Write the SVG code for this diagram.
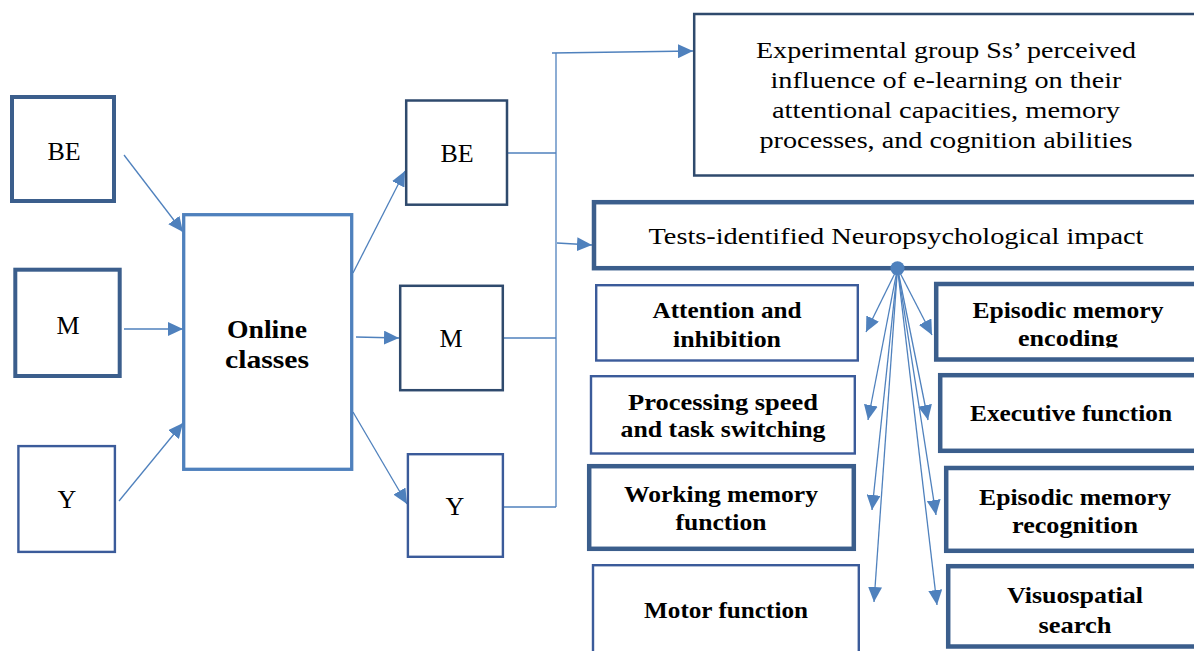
<svg xmlns="http://www.w3.org/2000/svg" width="1194" height="651" viewBox="0 0 1194 651">
<style>
.t{font-family:"Liberation Serif","Times New Roman",serif;fill:#000;text-anchor:middle}
.r{font-size:23px}
.b{font-size:23px;font-weight:bold}
.L{font-size:26px}
.box{fill:#fff}
.thick{stroke:#3b5e8c;stroke-width:4.5}
.thk4{stroke:#3b5e8c;stroke-width:4}
.dark{stroke:#2f4a6d;stroke-width:2.5}
.blue{stroke:#3b5b9a;stroke-width:2.4}
.online{stroke:#4f81bd;stroke-width:3.3}
.c{fill:none;stroke:#4f81bd;stroke-width:1.3}
.a{marker-end:url(#ah)}
</style>
<defs>
<marker id="ah" markerUnits="userSpaceOnUse" markerWidth="15" markerHeight="14" refX="15" refY="7" orient="auto">
<path d="M0,0 L15,7 L0,14 Z" fill="#4f81bd"/>
</marker>
<clipPath id="clipEnc"><rect x="930" y="276" width="270" height="71.5"/></clipPath>
</defs>

<g id="connectors">
<path class="c a" d="M124,155 L183,232"/>
<path class="c a" d="M124,329 L183,329"/>
<path class="c a" d="M119,501 L183,423"/>
<path class="c a" d="M353,273 L405,171"/>
<path class="c a" d="M356,337 L399,338"/>
<path class="c a" d="M353,412 L407,504"/>
<path class="c" d="M508,153 L556,153"/>
<path class="c" d="M504,338 L556,338"/>
<path class="c" d="M504,507 L556,507"/>
<path class="c" d="M556,53 L556,507"/>
<path class="c a" d="M552,53 L693,51"/>
<path class="c a" d="M557,243 L592,245"/>
<path class="c a" d="M897.5,268 L866,332"/>
<path class="c a" d="M897.5,268 L932,335"/>
<path class="c a" d="M897.5,268 L868,420"/>
<path class="c a" d="M897.5,268 L928,420"/>
<path class="c a" d="M897.5,268 L872,510"/>
<path class="c a" d="M897.5,268 L936,515"/>
<path class="c a" d="M897.5,268 L874,602"/>
<path class="c a" d="M897.5,268 L937,605"/>
</g>

<g id="be-left"><rect class="box thk4" x="12" y="97" width="102" height="104"/><text class="t L" x="64" y="160">BE</text></g>
<g id="m-left"><rect class="box thk4" x="15.3" y="269.7" width="104.4" height="106.3"/><text class="t L" x="68" y="334">M</text></g>
<g id="y-left"><rect class="box blue" x="18.4" y="446.1" width="96.5" height="105.8"/><text class="t L" x="67" y="508">Y</text></g>

<g id="online"><rect class="box online" x="183.7" y="214.7" width="168" height="254.6"/>
<text class="t L" font-weight="bold" x="267" y="338" textLength="80" lengthAdjust="spacingAndGlyphs">Online</text>
<text class="t L" font-weight="bold" x="267" y="368" textLength="84" lengthAdjust="spacingAndGlyphs">classes</text></g>

<g id="be-mid"><rect class="box dark" x="406.2" y="100.5" width="100.8" height="104.2"/><text class="t L" x="457" y="162">BE</text></g>
<g id="m-mid"><rect class="box dark" x="400.2" y="285.8" width="102.6" height="104.4"/><text class="t L" x="451" y="347">M</text></g>
<g id="y-mid"><rect class="box blue" x="407.9" y="454.2" width="95" height="102.6"/><text class="t L" x="455" y="515">Y</text></g>

<g id="perceived"><rect class="box dark" x="694.2" y="14" width="510" height="161.5"/>
<text class="t r" x="946" y="58" textLength="380" lengthAdjust="spacingAndGlyphs">Experimental group Ss’ perceived</text>
<text class="t r" x="946" y="88" textLength="351" lengthAdjust="spacingAndGlyphs">influence of e-learning on their</text>
<text class="t r" x="946" y="118" textLength="348" lengthAdjust="spacingAndGlyphs">attentional capacities, memory</text>
<text class="t r" x="946" y="148" textLength="373" lengthAdjust="spacingAndGlyphs">processes, and cognition abilities</text></g>

<g id="tests"><rect class="box thick" x="594" y="202.2" width="610" height="66"/>
<text class="t r" x="896" y="244" textLength="495" lengthAdjust="spacingAndGlyphs">Tests-identified Neuropsychological impact</text></g>

<g id="attention"><rect class="box blue" x="596.2" y="285.2" width="261.6" height="75.3"/>
<text class="t b" x="727" y="318" textLength="149" lengthAdjust="spacingAndGlyphs">Attention and</text>
<text class="t b" x="727" y="347" textLength="108" lengthAdjust="spacingAndGlyphs">inhibition</text></g>

<g id="encoding"><rect class="box thick" x="936.2" y="284" width="270" height="75.5"/>
<text class="t b" x="1068" y="318" textLength="191" lengthAdjust="spacingAndGlyphs">Episodic memory</text>
<text class="t b" x="1068" y="346" textLength="100" lengthAdjust="spacingAndGlyphs" clip-path="url(#clipEnc)">encoding</text></g>

<g id="processing"><rect class="box blue" x="591" y="376.2" width="263.8" height="77.3"/>
<text class="t b" x="723" y="410" textLength="190" lengthAdjust="spacingAndGlyphs">Processing speed</text>
<text class="t b" x="723" y="437" textLength="205" lengthAdjust="spacingAndGlyphs">and task switching</text></g>

<g id="executive"><rect class="box thick" x="940.2" y="375.2" width="264" height="75.6"/>
<text class="t b" x="1071" y="421" textLength="202" lengthAdjust="spacingAndGlyphs">Executive function</text></g>

<g id="working"><rect class="box thick" x="589.2" y="466.2" width="264.6" height="82.6"/>
<text class="t b" x="721" y="502" textLength="194" lengthAdjust="spacingAndGlyphs">Working memory</text>
<text class="t b" x="721" y="530" textLength="91" lengthAdjust="spacingAndGlyphs">function</text></g>

<g id="recognition"><rect class="box thick" x="946.2" y="468" width="260" height="82.8"/>
<text class="t b" x="1075" y="505" textLength="192" lengthAdjust="spacingAndGlyphs">Episodic memory</text>
<text class="t b" x="1075" y="533" textLength="126" lengthAdjust="spacingAndGlyphs">recognition</text></g>

<g id="motor"><rect class="box blue" x="593" y="565.2" width="265.8" height="100"/>
<text class="t b" x="726" y="618" textLength="164" lengthAdjust="spacingAndGlyphs">Motor function</text></g>

<g id="visuospatial"><rect class="box thick" x="948.2" y="566.2" width="260" height="80.3"/>
<text class="t b" x="1075" y="603" textLength="136" lengthAdjust="spacingAndGlyphs">Visuospatial</text>
<text class="t b" x="1075" y="633" textLength="73" lengthAdjust="spacingAndGlyphs">search</text></g>

<g id="hub"><circle cx="897.5" cy="268.3" r="7" fill="#4f81bd"/></g>
</svg>
